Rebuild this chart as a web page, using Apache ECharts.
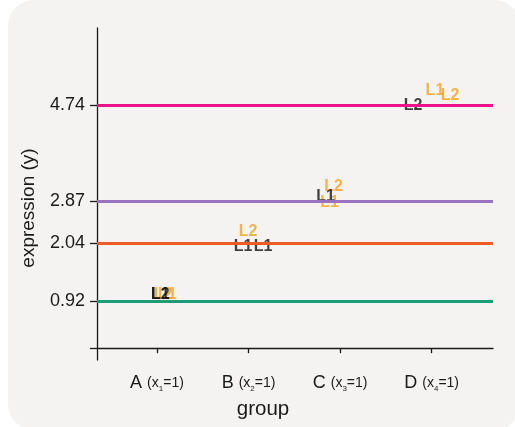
<!DOCTYPE html>
<html><head><meta charset="utf-8">
<script src="https://cdn.jsdelivr.net/npm/echarts@6/dist/echarts.min.js"></script>
<style>
html,body{margin:0;padding:0;background:#fff;overflow:hidden}
#panel{position:absolute;left:8px;top:0;width:512px;height:430px;border-radius:26px;background:#f4f3f1}
#chart{position:absolute;left:0;top:0;width:515px;height:427px}
</style></head><body>
<div id="panel"></div><div id="chart"></div>
<script>
// ---- data ----
const groups = ['A', 'B', 'C', 'D'];
const groupX = [1, 2, 3, 4];
const groupXValue = [1, 1, 1, 1];
const lineValues = [0.92, 2.04, 2.87, 4.74];
const yTickValues = [0, 0.92, 2.04, 2.87, 4.74];
const yLabelValues = [0.92, 2.04, 2.87, 4.74];

const orangeLabelText = ['L1', 'L1', 'L1', 'L2', 'L2', 'L2', 'L2'];
const orangeLabelX = [1.112, 2.884, 4.036, 1.07, 1.996, 2.928, 4.200];
const orangeLabelY = [1.037, 2.83, 5.013, 1.037, 2.265, 3.142, 4.915];

const blackLabelText = ['L1', 'L2', 'L1', 'L1', 'L1', 'L2'];
const blackLabelX = [1.036, 1.036, 1.941, 2.160, 2.841, 3.796];
const blackLabelY = [1.037, 1.037, 1.972, 1.972, 2.957, 4.72];

// ---- styles ----
const lineColors = ['#1b9e77', '#f05a24', '#9a72c0', '#ec1389'];
const FONT = '"Liberation Sans", Arial, Helvetica, sans-serif';
const ink = '#1a1a1a';

function labelSeries(texts, xs, ys, color) {
  return {
    type: 'scatter',
    symbolSize: 1,
    itemStyle: { color: 'rgba(0,0,0,0)' },
    silent: true,
    data: texts.map((t, i) => ({ name: t, value: [xs[i], ys[i]] })),
    label: {
      show: true, position: 'inside', formatter: p => p.name,
      color: color, fontFamily: FONT, fontSize: 16, fontWeight: 'bold', align: 'center', verticalAlign: 'middle'
    },
    emphasis: { disabled: true }
  };
}

const chart = echarts.init(document.getElementById('chart'), null, { renderer: 'canvas' });
chart.setOption({
  animation: false,
  grid: { left: 97, right: 22, top: 28, bottom: 67, containLabel: false },
  xAxis: {
    type: 'value', min: 0.345, max: 4.67,
    splitLine: { show: false },
    axisLine: { show: true, onZero: true, lineStyle: { color: ink, width: 1.3 } },
    axisTick: { show: true, customValues: groupX, length: 5, lineStyle: { color: ink, width: 1.3 } },
    axisLabel: {
      customValues: groupX, margin: 13, color: ink, fontFamily: FONT,
      formatter: function (v) {
        const i = groupX.indexOf(v);
        return '{big|' + groups[i] + ' }{small|(x}{sub|' + (i + 1) + '}{small|=' + groupXValue[i] + ')}';
      },
      rich: {
        big: { fontSize: 18, fontFamily: FONT, color: ink, lineHeight: 20 },
        small: { fontSize: 14, fontFamily: FONT, color: ink, lineHeight: 20 },
        sub: { fontSize: 8, fontFamily: FONT, color: ink, lineHeight: 8, verticalAlign: 'bottom' }
      }
    }
  },
  yAxis: {
    type: 'value', min: -0.23, max: 6.235,
    splitLine: { show: false },
    axisLine: { show: true, onZero: false, lineStyle: { color: ink, width: 1.3 } },
    axisTick: { show: true, customValues: yTickValues, length: 7, lineStyle: { color: ink, width: 1.3 } },
    axisLabel: {
      customValues: yLabelValues, margin: 12, color: ink, fontFamily: FONT, fontSize: 18,
      formatter: v => v.toFixed(2)
    }
  },
  graphic: [
    { type: 'text', x: 29, y: 208, rotation: Math.PI / 2, silent: true,
      style: { text: 'expression (y)', fill: ink, font: '19px ' + FONT, align: 'center', verticalAlign: 'middle' } },
    { type: 'text', x: 263, y: 409, silent: true,
      style: { text: 'group', fill: ink, font: '20.5px ' + FONT, align: 'center', verticalAlign: 'middle' } }
  ],
  series: [
    {
      type: 'line', data: [], silent: true,
      markLine: {
        silent: true, symbol: ['none', 'none'], label: { show: false },
        animation: false,
        data: lineValues.map((v, i) => ({ yAxis: v, lineStyle: { color: lineColors[i], width: 3, type: 'solid' } }))
      }
    },
    labelSeries(orangeLabelText, orangeLabelX, orangeLabelY, '#f2a31e'),
    labelSeries(blackLabelText, blackLabelX, blackLabelY, '#111111')
  ]
});
</script>
</body></html>
